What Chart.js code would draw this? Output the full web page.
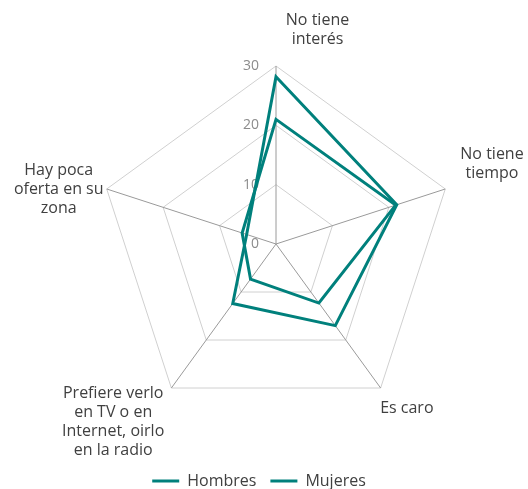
<!DOCTYPE html>
<html>
<head>
<meta charset="utf-8">
<script src="https://cdn.jsdelivr.net/npm/chart.js@4/dist/chart.umd.min.js"></script>
<style>
  html, body { margin: 0; padding: 0; background: #ffffff; }
  canvas { display: block; }
</style>
</head>
<body>
<canvas id="c" width="528" height="489"></canvas>
<script>
const categories = [
  ["No tiene", "interés"],
  ["No tiene", "tiempo"],
  ["Es caro"],
  ["Prefiere verlo", "en TV o en", "Internet, oirlo", "en la radio"],
  ["Hay poca", "oferta en su", "zona"]
];
const hombres = [28.2, 21.4, 17.0, 12.4, 5.2];
const mujeres = [21.0, 21.2, 12.3, 7.3, 6.0];
const tickLabels = [0, 10, 20, 30];

const TEAL = '#00807c';
const FONT = '"Open Sans", "Liberation Sans", sans-serif';

// label placement relative to each axis end (px)
const labelOffsets = [[41.5, -36.5], [46.7, -25.2], [26.2, 20.4], [-58.2, 33.9], [-48, 0]];

const customText = {
  id: 'customText',
  beforeDatasetsDraw(chart) {
    const s = chart.scales.r;
    const ctx = chart.ctx;
    ctx.save();
    ctx.font = '14px ' + FONT;
    ctx.fillStyle = '#8c8c8c';
    ctx.textAlign = 'right';
    ctx.textBaseline = 'middle';
    tickLabels.forEach(v => {
      const d = s.getDistanceFromCenterForValue(v);
      ctx.fillText(String(v), s.xCenter - 17, s.yCenter - d);
    });
    ctx.restore();
  },
  afterDraw(chart) {
    const s = chart.scales.r;
    const ctx = chart.ctx;
    ctx.save();
    ctx.font = '16px ' + FONT;
    ctx.fillStyle = '#404040';
    ctx.textAlign = 'center';
    ctx.textBaseline = 'middle';
    const lh = 19;
    categories.forEach((lines, i) => {
      const p = s.getPointPosition(i, s.drawingArea);
      const cx = p.x + labelOffsets[i][0];
      const cy = p.y + labelOffsets[i][1];
      const y0 = cy - (lines.length - 1) * lh / 2;
      lines.forEach((t, j) => ctx.fillText(t, cx, y0 + j * lh));
    });
    ctx.restore();
  }
};

new Chart(document.getElementById('c'), {
  type: 'radar',
  data: {
    labels: categories,
    datasets: [
      { label: 'Hombres', data: hombres, borderColor: TEAL, backgroundColor: TEAL, borderWidth: 3, pointRadius: 0, fill: false, tension: 0 },
      { label: 'Mujeres', data: mujeres, borderColor: TEAL, backgroundColor: TEAL, borderWidth: 3, pointRadius: 0, fill: false, tension: 0 }
    ]
  },
  options: {
    responsive: false,
    devicePixelRatio: 1,
    animation: false,
    layout: { padding: { left: 81, right: 91, top: 29, bottom: -10 } },
    plugins: {
      legend: {
        position: 'bottom',
        labels: {
          usePointStyle: true,
          pointStyle: 'line',
          pointStyleWidth: 27,
          boxHeight: 12,
          padding: 14,
          color: '#404040',
          font: { family: FONT, size: 16 }
        }
      },
      tooltip: { enabled: false }
    },
    scales: {
      r: {
        min: 0,
        max: 30,
        ticks: { stepSize: 10, display: false },
        grid: { color: '#d0d0d0', lineWidth: 1 },
        angleLines: { color: '#9a9a9a', lineWidth: 1 },
        pointLabels: { display: false },
        afterFit: (s) => { s.xCenter += 17; }
      }
    }
  },
  plugins: [customText]
});
</script>
</body>
</html>
